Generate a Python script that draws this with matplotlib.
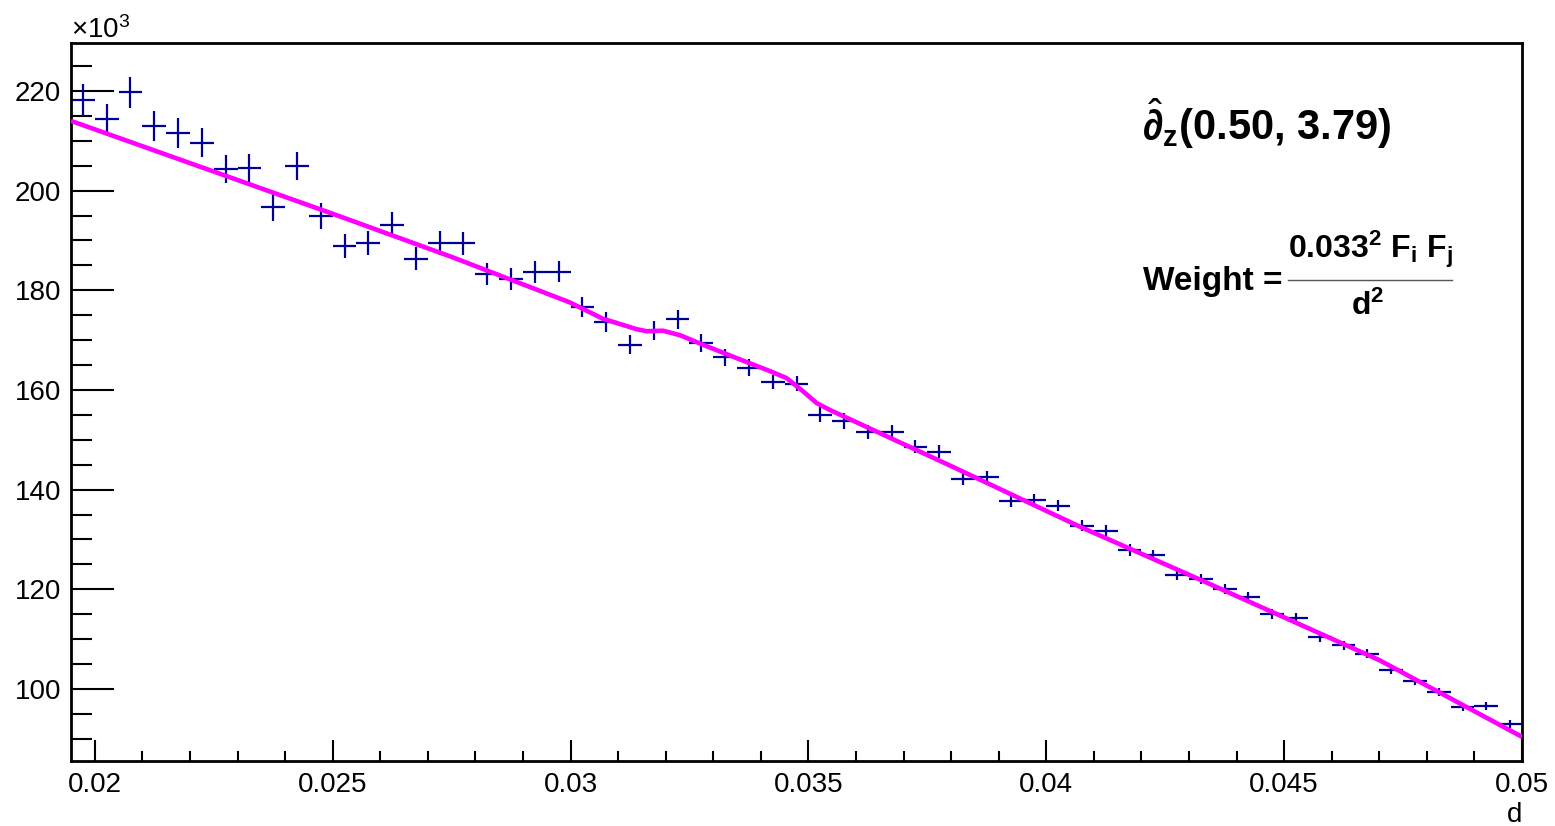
import numpy as np
import matplotlib
matplotlib.use('Agg')
import matplotlib.pyplot as plt
from matplotlib.ticker import MultipleLocator, FormatStrFormatter
from matplotlib.lines import Line2D

plt.rcParams['font.family'] = ['Liberation Sans', 'DejaVu Sans']
plt.rcParams['mathtext.fontset'] = 'custom'
plt.rcParams['mathtext.rm'] = 'Liberation Sans'
plt.rcParams['mathtext.it'] = 'Liberation Sans:italic'
plt.rcParams['mathtext.bf'] = 'Liberation Sans:bold'

# histogram binning in d
bin_lo = 0.0195
bin_hi = 0.05
n_bins = 61

# bin contents (x10^3)
counts = [218.2, 214.3, 219.7, 213.0, 211.6, 209.6, 204.3, 204.6, 196.7, 205.0,
          195.0, 188.9, 189.5, 193.2, 186.3, 189.5, 189.4, 183.3, 182.3, 183.7,
          183.7, 176.6, 173.6, 169.1, 171.9, 174.2, 169.4, 166.6, 164.5, 161.6,
          161.3, 155.0, 153.7, 151.6, 151.5, 148.6, 147.6, 142.2, 142.5, 137.8,
          138.0, 136.8, 132.8, 131.8, 127.9, 126.9, 122.8, 122.0, 120.0, 118.5,
          115.0, 114.3, 110.4, 108.8, 107.1, 103.8, 101.6, 99.3, 96.4, 96.6,
          92.9]
errors = [3.2, 3.1, 3.2, 3.0, 3.0, 2.9, 2.8, 2.8, 2.7, 2.8,
          2.6, 2.4, 2.4, 2.5, 2.3, 2.4, 2.3, 2.2, 2.2, 2.2,
          2.1, 2.0, 2.0, 1.9, 1.9, 1.9, 1.8, 1.7, 1.7, 1.5,
          1.5, 1.5, 1.6, 1.4, 1.4, 1.3, 1.3, 1.2, 1.2, 1.2,
          1.2, 1.1, 1.1, 1.1, 1.2, 1.0, 1.0, 1.0, 1.0, 1.0,
          1.0, 1.0, 0.9, 0.9, 0.9, 0.8, 0.8, 0.8, 0.8, 0.8,
          0.8]

# fitted curve (x10^3)
fit_d = [0.01950, 0.02496, 0.02753, 0.02998, 0.03068, 0.03139, 0.03160, 0.03194,
         0.03230, 0.03278, 0.03349, 0.03419, 0.03454, 0.03488, 0.03517, 0.03545,
         0.03803, 0.04070, 0.04322, 0.04700, 0.05000]
fit_v = [214.0, 195.5, 186.6, 177.6, 174.3, 172.2, 171.8, 171.9,
         171.0, 169.1, 166.4, 163.8, 162.4, 159.8, 157.4, 156.0,
         144.6, 132.6, 122.0, 105.8, 90.4]

edges = np.linspace(bin_lo, bin_hi, n_bins + 1)
centers = 0.5 * (edges[:-1] + edges[1:])
half_w = 0.5 * (edges[1] - edges[0])

fig = plt.figure(figsize=(15.55, 8.26), dpi=100)
ax = fig.add_axes([71 / 1555, 1 - 761 / 826, (1522 - 71) / 1555, (761 - 43) / 826])

ax.errorbar(centers, counts, xerr=half_w, yerr=errors, fmt='none',
            ecolor='#000099', elinewidth=1.6, capsize=0, zorder=2)
ax.plot(fit_d, fit_v, color='#ff00ff', lw=3.3, zorder=3, solid_capstyle='butt')

ax.set_xlim(bin_lo, bin_hi)
ax.set_ylim(85.55, 229.63)

ax.xaxis.set_major_locator(MultipleLocator(0.005))
ax.xaxis.set_minor_locator(MultipleLocator(0.001))
ax.yaxis.set_major_locator(MultipleLocator(20))
ax.yaxis.set_minor_locator(MultipleLocator(5))
ax.xaxis.set_major_formatter(FormatStrFormatter('%g'))
ax.yaxis.set_major_formatter(FormatStrFormatter('%g'))

ax.tick_params(axis='both', which='both', direction='in', width=1.5,
               labelsize=20, top=False, right=False)
ax.tick_params(axis='y', which='major', length=31, pad=7)
ax.tick_params(axis='y', which='minor', length=15)
ax.tick_params(axis='x', which='major', length=15, pad=8)
ax.tick_params(axis='x', which='minor', length=7.5)
for s in ax.spines.values():
    s.set_linewidth(2)

fig.text(71 / 1555, 1 - 38 / 826, r'$\times$10$^{3}$', fontsize=20,
         ha='left', va='baseline')
fig.text(1522 / 1555, 1 - 822 / 826, 'd', fontsize=20, ha='right', va='baseline')

fig.text(1142 / 1555, 1 - 140 / 826,
         r'$\hat{\mathbf{\partial}}_{\mathbf{z}}$(0.50, 3.79)',
         fontsize=30, fontweight='bold', ha='left', va='baseline')
fig.text(1143 / 1555, 1 - 290 / 826, 'Weight =', fontsize=24,
         fontweight='bold', ha='left', va='baseline')
fig.text(1370 / 1555, 1 - 258 / 826,
         r'0.033$^{\mathbf{2}}$ F$_{\mathbf{i}}$ F$_{\mathbf{j}}$',
         fontsize=23, fontweight='bold', ha='center', va='baseline')
fig.text(1368 / 1555, 1 - 315 / 826, r'd$^{\mathbf{2}}$', fontsize=23,
         fontweight='bold', ha='center', va='baseline')
fig.add_artist(Line2D([1288 / 1555, 1452 / 1555], [1 - 280 / 826, 1 - 280 / 826],
                      color='#555555', lw=1.0))

fig.savefig('out.png', dpi=100)
